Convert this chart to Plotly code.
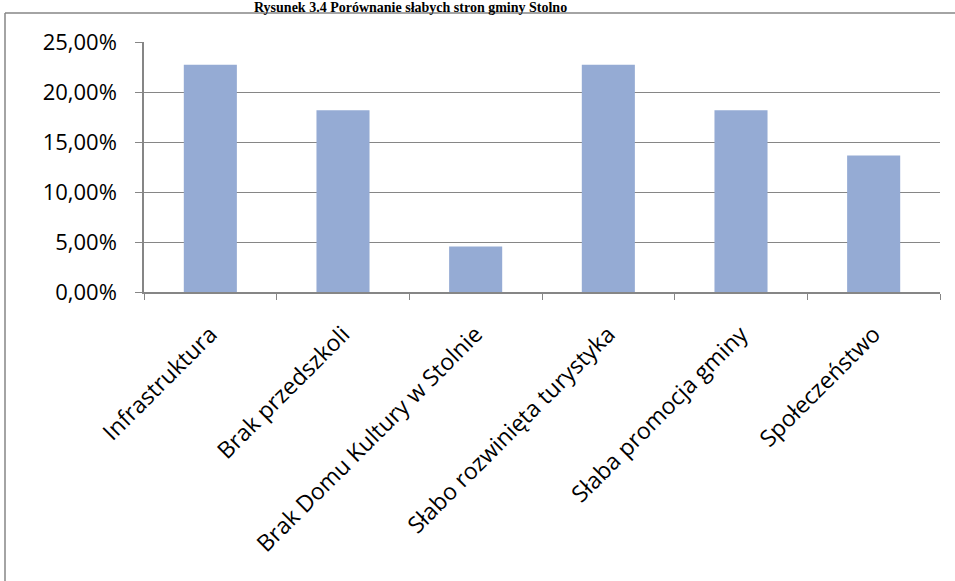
import plotly.graph_objects as go

categories = ["Infrastruktura", "Brak przedszkoli", "Brak Domu Kultury w Stolnie",
              "Słabo rozwinięta turystyka", "Słaba promocja gminy", "Społeczeństwo"]
values = [0.2273, 0.1818, 0.0455, 0.2273, 0.1818, 0.1364]
y_ticks = [0, 0.05, 0.10, 0.15, 0.20, 0.25]
title_text = "Rysunek 3.4 Porównanie słabych stron gminy Stolno"

W, H = 955, 581
ml, mr, mt, mb = 144, 15, 42, 289
pw, ph = W - ml - mr, H - mt - mb

def px_x(p):
    return (p - ml) / pw

def px_y(p):
    return 1 + (mt - p) / ph

fig = go.Figure(go.Bar(x=categories, y=values, marker_color="#95abd4",
                       marker_line_width=0))

grid = "#868686"
fig.update_layout(
    width=W, height=H,
    margin=dict(l=ml, r=mr, t=mt, b=mb, autoexpand=False),
    paper_bgcolor="white", plot_bgcolor="white",
    separators=", ",
    bargap=0.6,
    showlegend=False,
    font=dict(family="Open Sans", size=16, color="black"),
    xaxis=dict(type="category", tickson="boundaries", ticks="outside", ticklen=6,
               tickcolor=grid, showline=True, linecolor=grid, linewidth=1.5,
               tickangle=-45, showgrid=False, tickfont=dict(size=23),
               ticklabelstandoff=18),
    yaxis=dict(range=[0, 0.25], tickvals=y_ticks, tickformat=".2%",
               showgrid=True, gridcolor=grid, gridwidth=1.2, ticks="outside", ticklen=7,
               tickcolor=grid, showline=True, linecolor=grid, linewidth=1.5,
               zeroline=False, tickfont=dict(size=22), ticklabelstandoff=14),
)

fig.add_shape(type="line", xref="paper", yref="paper",
              x0=px_x(5), x1=px_x(960), y0=px_y(13), y1=px_y(13),
              line=dict(color=grid, width=1.5))
fig.add_shape(type="line", xref="paper", yref="paper",
              x0=px_x(5), x1=px_x(5), y0=px_y(13), y1=px_y(590),
              line=dict(color=grid, width=1.5))

fig.add_annotation(text="<b>" + title_text + "</b>", xref="paper", yref="paper",
                   x=px_x(410), y=px_y(16), xanchor="center", yanchor="bottom",
                   showarrow=False, borderpad=0,
                   font=dict(family="Liberation Serif", size=14, color="black"))

fig.write_html("out.html", config={"displayModeBar": False},
               post_script="document.body.style.margin='0';")
